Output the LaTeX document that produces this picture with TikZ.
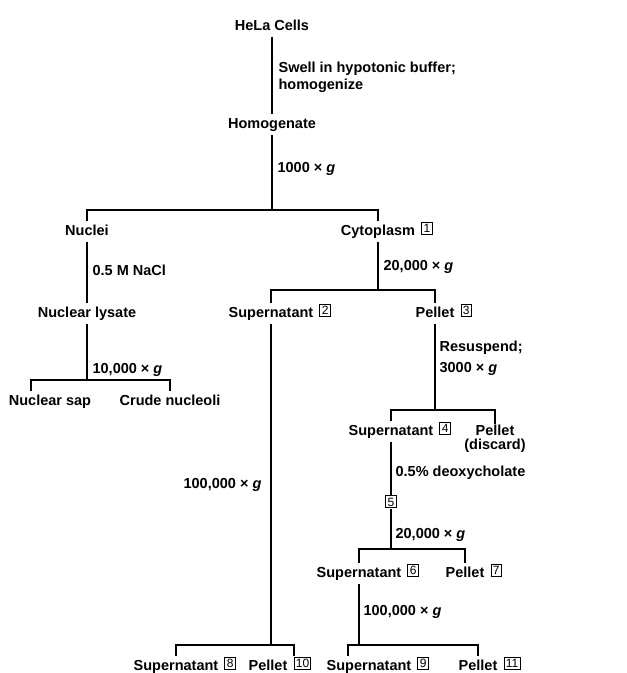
\documentclass[tikz,border=0pt]{standalone}
\usepackage{fontspec}
\setmainfont{Liberation Sans}
\newcommand{\stagefont}{\fontsize{14.5}{17}\selectfont\bfseries}
\newcommand{\bnum}[1]{{\fontsize{12}{13}\selectfont\mdseries\setlength{\fboxsep}{1.3pt}\setlength{\fboxrule}{1pt}\fbox{#1}}}
\newcommand{\xg}[1]{#1~×~\textit{g}}
\begin{document}
\begin{tikzpicture}[x=1pt,y=-1pt,line width=1.2pt,
	stage/.style={font=\stagefont,anchor=base,inner xsep=2pt,inner ysep=3pt,
		text height=10.5pt,text depth=3pt},
	frac/.style={stage,label={[label distance=3pt,inner sep=0pt,yshift=2.5pt]right:\bnum{#1}}},
	cond/.style={font=\stagefont,anchor=base west,inner sep=0pt},
	cond2/.style={font=\stagefont,anchor=north west,align=left,inner sep=0pt}]
\useasboundingbox (0,0) rectangle (627,673);
\node[stage] (hela) at (272,30) {HeLa Cells};
\node[stage] (homo) at (272,128) {Homogenate};
\node[stage] (nuclei) at (87,235) {Nuclei};
\node[frac=1] (cyto) at (378,235) {Cytoplasm};
\node[stage] (lysate) at (87,317) {Nuclear lysate};
\node[stage] (nsap) at (50,405) {Nuclear sap};
\node[stage] (crude) at (170,405) {Crude nucleoli};
\node[frac=2] (sup2) at (271,317) {Supernatant};
\node[frac=3] (pel3) at (435,317) {Pellet};
\node[frac=4] (sup4) at (391,435) {Supernatant};
\node[font=\stagefont,align=center,anchor=north,inner sep=0pt] (discard) at (495,424)
	{Pellet\\[-3pt](discard)};
\node[anchor=base,inner sep=0pt] (five) at (391,506) {\bnum{5}};
\node[frac=6] (sup6) at (359,577) {Supernatant};
\node[frac=7] (pel7) at (465,577) {Pellet};
\node[frac=8] (sup8) at (176,670) {Supernatant};
\node[frac=10] (pel10) at (268,670) {Pellet};
\node[frac=9] (sup9) at (369,670) {Supernatant};
\node[frac=11] (pel11) at (478,670) {Pellet};
% conditions
\node[cond2] at (278,61.5) {Swell in hypotonic buffer;\\homogenize};
\node[cond] at (277,172) {\xg{1000}};
\node[cond] at (92,275) {0.5 M NaCl};
\node[cond] at (92,373) {\xg{10,000}};
\node[cond] at (383,270) {\xg{20,000}};
\node[cond2] at (439,340.5) {Resuspend;\\[4pt]\xg{3000}};
\node[cond] at (395,476) {0.5\% deoxycholate};
\node[cond] at (395,538) {\xg{20,000}};
\node[cond] at (363,615) {\xg{100,000}};
\node[cond,anchor=base east] at (262,488) {\xg{100,000}};
% lines
\draw (hela.south) -- (homo.north);
\draw (homo.south) -- (homo.south |- 0,210);
\draw (nuclei.north) |- (homo.south |- 0,210) -| (cyto.north);
\draw (nuclei.south) -- (lysate.north);
\draw (lysate.south) -- (lysate.south |- 0,380);
\draw ([xshift=-19pt]nsap.north) |- (lysate.south |- 0,380) -| (crude.north);
\draw (cyto.south) -- (cyto.south |- 0,290);
\draw (sup2.north) |- (cyto.south |- 0,290) -| (pel3.north);
\draw (sup2.south) -- (sup2.south |- 0,645);
\draw (sup8.north) |- (sup2.south |- 0,645) -| ([xshift=26pt]pel10.north);
\draw (pel3.south) -- (pel3.south |- 0,410);
\draw (sup4.north) |- (pel3.south |- 0,410) -| (discard.north);
\draw (sup4.south) -- (five.north);
\draw (five.south) -- (five.south |- 0,549);
\draw (sup6.north) |- (five.south |- 0,549) -| (pel7.north);
\draw (sup6.south) -- (sup6.south |- 0,645);
\draw ([xshift=-21pt]sup9.north) |- (sup6.south |- 0,645) -| (pel11.north);
\end{tikzpicture}
\end{document}
